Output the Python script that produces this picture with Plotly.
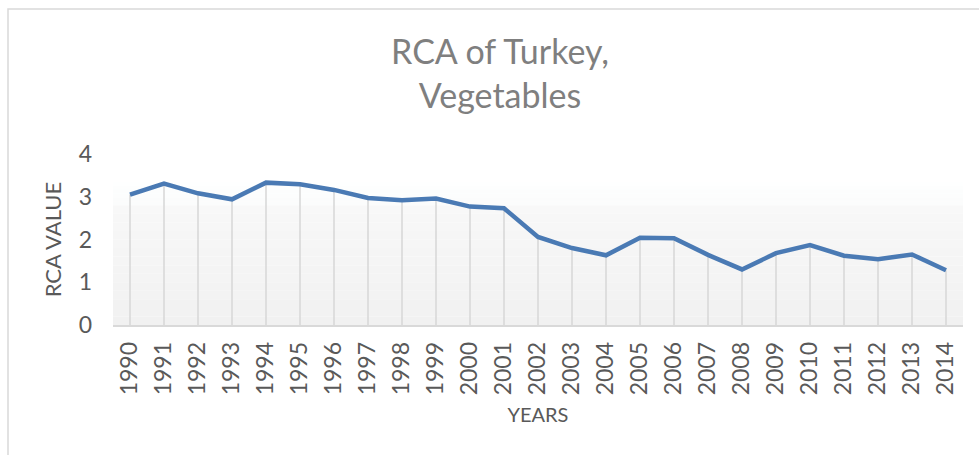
import plotly.graph_objects as go

years = [str(y) for y in range(1990, 2015)]
rca = [3.05, 3.31, 3.08, 2.94, 3.33, 3.29, 3.16, 2.97, 2.92, 2.96, 2.77, 2.73,
       2.06, 1.80, 1.63, 2.04, 2.03, 1.64, 1.30, 1.68, 1.87, 1.62, 1.54, 1.65, 1.28]
y_ticks = [0, 1, 2, 3, 4]

W, H = 979, 455
L, R, T, B = 113, 16, 154, 130

fig = go.Figure()

# drop lines from each point to the axis
dx, dy = [], []
for x, v in zip(years, rca):
    dx += [x, x, None]
    dy += [0, v, None]
fig.add_trace(go.Scatter(x=dx, y=dy, mode="lines",
                         line=dict(color="#d9d9d9", width=1.6),
                         hoverinfo="skip", showlegend=False))

fig.add_trace(go.Scatter(x=years, y=rca, mode="lines",
                         line=dict(color="#4a7ab4", width=4.5),
                         showlegend=False))

shapes = []
# soft gradient background in plot area
top_val, mid_val = 3.35, 2.8
n1 = 6
for i in range(n1):
    y0 = top_val - (top_val - mid_val) * i / n1
    y1 = top_val - (top_val - mid_val) * (i + 1) / n1
    c = 254 - i * 0.6
    shapes.append(dict(type="rect", xref="x domain", yref="y", x0=0, x1=1,
                       y0=y1, y1=y0, line=dict(width=0),
                       fillcolor=f"rgb({int(c)},{int(c)+1},{int(c)+1})", layer="below"))
n2 = 14
for i in range(n2):
    y0 = mid_val - mid_val * i / n2
    y1 = mid_val - mid_val * (i + 1) / n2
    c = 248 - i * 0.5
    shapes.append(dict(type="rect", xref="x domain", yref="y", x0=0, x1=1,
                       y0=y1, y1=y0, line=dict(width=0),
                       fillcolor=f"rgb({int(c)},{int(c)},{int(c)})", layer="below"))
# chart border
shapes.append(dict(type="rect", xref="paper", yref="paper",
                   x0=(8 - L) / (W - L - R), x1=(W + 5 - L) / (W - L - R),
                   y0=-(H + 5 - (H - B)) / (H - T - B), y1=1 + (T - 9) / (H - T - B),
                   line=dict(color="#d9d9d9", width=1.5), layer="below"))

fig.update_layout(
    width=W, height=H,
    margin=dict(l=L, r=R, t=T, b=B),
    paper_bgcolor="white", plot_bgcolor="white",
    font=dict(family="Lato", color="#595959"),
    title=dict(text="RCA of Turkey,<br>Vegetables", x=500 / W,
               xanchor="center", y=1 - 64 / H, yanchor="top",
               font=dict(family="Lato", size=34, color="#7f7f7f")),
    shapes=shapes,
    xaxis=dict(type="category", range=[-0.5, len(years) - 0.5],
               showgrid=False, showline=True, linecolor="#d9d9d9",
               linewidth=1.5, ticks="", tickangle=-90,
               tickfont=dict(size=23, color="#595959"),
               ticklabelstandoff=6,
               title=dict(text="YEARS", font=dict(size=20, color="#595959"), standoff=14),
               zeroline=False, fixedrange=True),
    yaxis=dict(range=[0, 4], tickvals=y_ticks, showgrid=False, showline=False,
               zeroline=False, ticks="", tickfont=dict(size=23, color="#595959"),
               ticklabelstandoff=20,
               title=dict(text="RCA VALUE", font=dict(size=22, color="#595959"), standoff=10),
               fixedrange=True),
)

fig.write_html("out.html", config={"displayModeBar": False},
               post_script="document.body.style.margin='0';document.body.style.overflow='hidden';")
